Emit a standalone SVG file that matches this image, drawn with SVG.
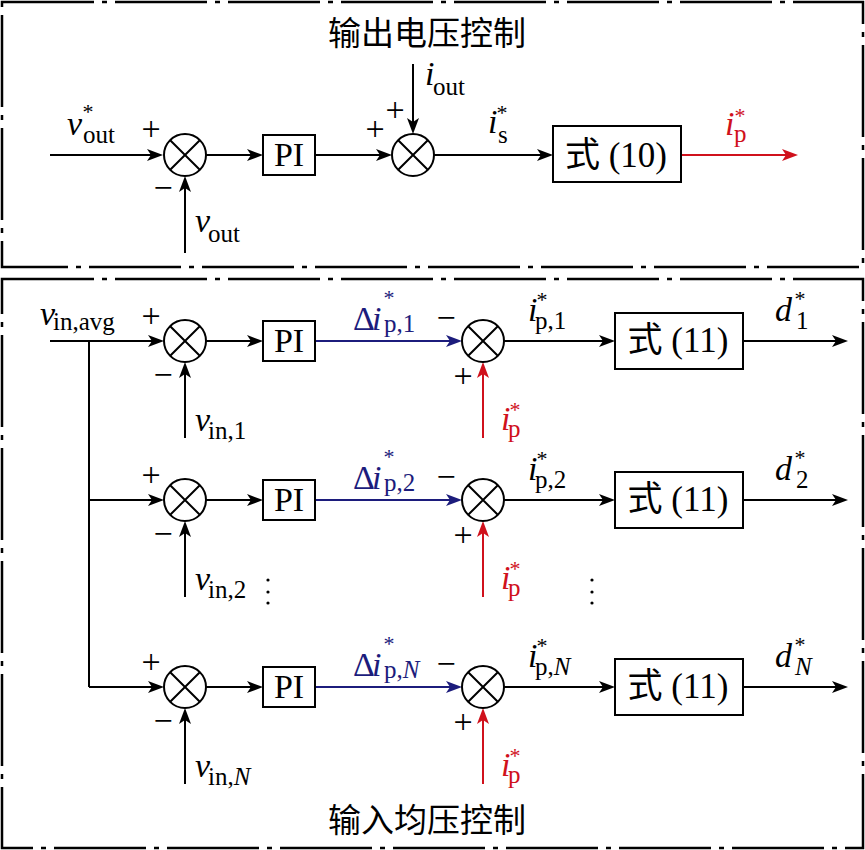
<svg xmlns="http://www.w3.org/2000/svg" width="865" height="850" viewBox="0 0 865 850">
<style>
.frame{fill:none;stroke:#000;stroke-width:2.5;stroke-dasharray:92 8 5 8}
.ln{fill:none;stroke:#000;stroke-width:2}
.lb{fill:none;stroke:#1c1c7c;stroke-width:2}
.lr{fill:none;stroke:#d0111c;stroke-width:2}
.blk{fill:#fff;stroke:#000;stroke-width:2}
.sum{fill:#fff;stroke:#000;stroke-width:2}
.t{font-family:"Liberation Serif","Times New Roman",serif;fill:#000}
.it{font-style:italic;font-size:34px}
.rm{font-size:34px}
.sub{font-size:25px}
.sup{font-size:22px}
.pm{font-size:34px}
.cn{font-family:"Noto Sans CJK SC",sans-serif;font-size:33px;fill:#000}
.box{font-family:"Liberation Serif","Noto Sans CJK SC",serif;font-size:35px}
.blue{fill:#1c1c7c}
.red{fill:#d0111c}
</style>
<defs>
<marker id="ak" markerUnits="userSpaceOnUse" markerWidth="16" markerHeight="12" viewBox="0 0 16 12" refX="10" refY="6" orient="auto"><path d="M0,0 L16,6 L0,12 L4,6 z" fill="#000"/></marker>
<marker id="abl" markerUnits="userSpaceOnUse" markerWidth="16" markerHeight="12" viewBox="0 0 16 12" refX="10" refY="6" orient="auto"><path d="M0,0 L16,6 L0,12 L4,6 z" fill="#1c1c7c"/></marker>
<marker id="ar" markerUnits="userSpaceOnUse" markerWidth="16" markerHeight="12" viewBox="0 0 16 12" refX="10" refY="6" orient="auto"><path d="M0,0 L16,6 L0,12 L4,6 z" fill="#d0111c"/></marker>
</defs>
<rect width="865" height="850" fill="#fff"/>
<!-- frames -->
<rect class="frame" x="2" y="2" width="861" height="265"/>
<rect class="frame" x="2" y="279" width="861" height="569"/>
<text class="cn" x="427" y="45" text-anchor="middle">输出电压控制</text>
<text class="cn" x="427" y="832" text-anchor="middle">输入均压控制</text>

<!-- connectors -->
<g id="connectors">
<path class="ln" d="M50,155 H157" marker-end="url(#ak)"/>
<path class="ln" d="M206,155 H257" marker-end="url(#ak)"/>
<path class="ln" d="M315,155 H386" marker-end="url(#ak)"/>
<path class="ln" d="M434,155 H547" marker-end="url(#ak)"/>
<path class="lr" d="M681,155 H792" marker-end="url(#ar)"/>
<path class="ln" d="M185,253 V182" marker-end="url(#ak)"/>
<path class="ln" d="M413,64 V128" marker-end="url(#ak)"/>

<path class="ln" d="M89,341 V687"/>
<path class="ln" d="M50,341 H158" marker-end="url(#ak)"/>
<path class="ln" d="M89,500 H158" marker-end="url(#ak)"/>
<path class="ln" d="M89,687 H158" marker-end="url(#ak)"/>

<path class="ln" d="M206,341 H257" marker-end="url(#ak)"/>
<path class="ln" d="M206,500 H257" marker-end="url(#ak)"/>
<path class="ln" d="M206,687 H257" marker-end="url(#ak)"/>

<path class="lb" d="M315,341 H456" marker-end="url(#abl)"/>
<path class="lb" d="M315,500 H456" marker-end="url(#abl)"/>
<path class="lb" d="M315,687 H456" marker-end="url(#abl)"/>

<path class="ln" d="M504,341 H609" marker-end="url(#ak)"/>
<path class="ln" d="M504,500 H609" marker-end="url(#ak)"/>
<path class="ln" d="M504,687 H609" marker-end="url(#ak)"/>

<path class="ln" d="M743,341 H842" marker-end="url(#ak)"/>
<path class="ln" d="M743,500 H842" marker-end="url(#ak)"/>
<path class="ln" d="M743,687 H842" marker-end="url(#ak)"/>

<path class="ln" d="M185,438 V368" marker-end="url(#ak)"/>
<path class="ln" d="M185,597 V527" marker-end="url(#ak)"/>
<path class="ln" d="M185,784 V714" marker-end="url(#ak)"/>

<path class="lr" d="M483,438 V368" marker-end="url(#ar)"/>
<path class="lr" d="M483,597 V527" marker-end="url(#ar)"/>
<path class="lr" d="M483,784 V714" marker-end="url(#ar)"/>
</g>

<!-- top section nodes -->
<g id="sum-top-1">
<circle class="sum" cx="185" cy="155" r="21"/>
<path class="ln" d="M170.2,140.2 L199.8,169.8 M199.8,140.2 L170.2,169.8"/>
</g>
<g id="pi-top">
<rect class="blk" x="263" y="135" width="52" height="40"/>
<text class="t rm" x="289" y="166" text-anchor="middle">PI</text>
</g>
<g id="sum-top-2">
<circle class="sum" cx="413" cy="155" r="21"/>
<path class="ln" d="M398.2,140.2 L427.8,169.8 M427.8,140.2 L398.2,169.8"/>
</g>
<g id="eq10">
<rect class="blk" x="553" y="126" width="128" height="56"/>
<text class="t box" x="616" y="167" text-anchor="middle">式 (10)</text>
</g>

<!-- top labels -->
<g id="labels-top">
<text class="t it" x="67" y="135">v</text><text class="t sub" x="83" y="143">out</text><text class="t sup" x="88" y="119" text-anchor="middle">*</text>
<text class="t it" x="195" y="232">v</text><text class="t sub" x="208" y="242">out</text>
<text class="t it" x="425" y="85">i</text><text class="t sub" x="433" y="95">out</text>
<text class="t it" x="488" y="133">i</text><text class="t sub" x="498" y="143">s</text><text class="t sup" x="502" y="120" text-anchor="middle">*</text>
<text class="t it red" x="725" y="135">i</text><text class="t sub red" x="734" y="142">p</text><text class="t sup red" x="740" y="123" text-anchor="middle">*</text>
<text class="t pm" x="151" y="140" text-anchor="middle">+</text>
<text class="t pm" x="163" y="199" text-anchor="middle">−</text>
<text class="t pm" x="395" y="121" text-anchor="middle">+</text>
<text class="t pm" x="375" y="140" text-anchor="middle">+</text>
</g>

<!-- row 1 -->
<g id="sum-1a"><circle class="sum" cx="185" cy="341" r="21"/><path class="ln" d="M170.2,326.2 L199.8,355.8 M199.8,326.2 L170.2,355.8"/></g>
<g id="pi-1"><rect class="blk" x="263" y="321" width="52" height="40"/><text class="t rm" x="289" y="352" text-anchor="middle">PI</text></g>
<g id="sum-1b"><circle class="sum" cx="483" cy="341" r="21"/><path class="ln" d="M468.2,326.2 L497.8,355.8 M497.8,326.2 L468.2,355.8"/></g>
<g id="eq11-1"><rect class="blk" x="615" y="313" width="128" height="56"/><text class="t box" x="678" y="352" text-anchor="middle">式 (11)</text></g>
<g id="labels-1">
<text class="t it" x="40" y="325">v</text><text class="t sub" x="53" y="330">in,avg</text>
<text class="t pm" x="151" y="327" text-anchor="middle">+</text>
<text class="t pm" x="163" y="386" text-anchor="middle">−</text>
<text class="t it" x="195" y="431">v</text><text class="t sub" x="208" y="439">in,1</text>
<text class="t rm blue" x="353" y="330">Δ</text><text class="t it blue" x="372" y="330">i</text><text class="t sub blue" x="384" y="332">p,1</text><text class="t sup blue" x="389" y="305" text-anchor="middle">*</text>
<text class="t pm" x="446" y="329" text-anchor="middle">−</text>
<text class="t pm" x="463" y="387" text-anchor="middle">+</text>
<text class="t it red" x="501" y="430">i</text><text class="t sub red" x="508" y="437">p</text><text class="t sup red" x="515" y="417" text-anchor="middle">*</text>
<text class="t it" x="528" y="321">i</text><text class="t sub" x="535" y="329">p,1</text><text class="t sup" x="542" y="307" text-anchor="middle">*</text>
<text class="t it" x="775" y="321">d</text><text class="t sub" x="796" y="329">1</text><text class="t sup" x="800" y="306" text-anchor="middle">*</text>
</g>

<!-- row 2 -->
<g id="sum-2a"><circle class="sum" cx="185" cy="500" r="21"/><path class="ln" d="M170.2,485.2 L199.8,514.8 M199.8,485.2 L170.2,514.8"/></g>
<g id="pi-2"><rect class="blk" x="263" y="480" width="52" height="40"/><text class="t rm" x="289" y="511" text-anchor="middle">PI</text></g>
<g id="sum-2b"><circle class="sum" cx="483" cy="500" r="21"/><path class="ln" d="M468.2,485.2 L497.8,514.8 M497.8,485.2 L468.2,514.8"/></g>
<g id="eq11-2"><rect class="blk" x="615" y="472" width="128" height="56"/><text class="t box" x="678" y="511" text-anchor="middle">式 (11)</text></g>
<g id="labels-2">
<text class="t pm" x="151" y="486" text-anchor="middle">+</text>
<text class="t pm" x="163" y="545" text-anchor="middle">−</text>
<text class="t it" x="195" y="590">v</text><text class="t sub" x="208" y="598">in,2</text>
<text class="t rm blue" x="353" y="489">Δ</text><text class="t it blue" x="372" y="489">i</text><text class="t sub blue" x="384" y="491">p,2</text><text class="t sup blue" x="389" y="464" text-anchor="middle">*</text>
<text class="t pm" x="446" y="488" text-anchor="middle">−</text>
<text class="t pm" x="463" y="546" text-anchor="middle">+</text>
<text class="t it red" x="501" y="589">i</text><text class="t sub red" x="508" y="596">p</text><text class="t sup red" x="515" y="576" text-anchor="middle">*</text>
<text class="t it" x="528" y="480">i</text><text class="t sub" x="535" y="488">p,2</text><text class="t sup" x="542" y="466" text-anchor="middle">*</text>
<text class="t it" x="775" y="480">d</text><text class="t sub" x="796" y="488">2</text><text class="t sup" x="800" y="465" text-anchor="middle">*</text>
</g>
<g id="dots">
<circle cx="268" cy="580" r="1.6"/><circle cx="268" cy="592" r="1.6"/><circle cx="268" cy="603" r="1.6"/>
<circle cx="592" cy="580" r="1.6"/><circle cx="592" cy="592" r="1.6"/><circle cx="592" cy="603" r="1.6"/>
</g>

<!-- row N -->
<g id="sum-Na"><circle class="sum" cx="185" cy="687" r="21"/><path class="ln" d="M170.2,672.2 L199.8,701.8 M199.8,672.2 L170.2,701.8"/></g>
<g id="pi-N"><rect class="blk" x="263" y="667" width="52" height="40"/><text class="t rm" x="289" y="698" text-anchor="middle">PI</text></g>
<g id="sum-Nb"><circle class="sum" cx="483" cy="687" r="21"/><path class="ln" d="M468.2,672.2 L497.8,701.8 M497.8,672.2 L468.2,701.8"/></g>
<g id="eq11-N"><rect class="blk" x="615" y="659" width="128" height="56"/><text class="t box" x="678" y="698" text-anchor="middle">式 (11)</text></g>
<g id="labels-N">
<text class="t pm" x="151" y="673" text-anchor="middle">+</text>
<text class="t pm" x="163" y="732" text-anchor="middle">−</text>
<text class="t it" x="195" y="777">v</text><text class="t sub" x="208" y="785">in,<tspan font-style="italic">N</tspan></text>
<text class="t rm blue" x="353" y="676">Δ</text><text class="t it blue" x="372" y="676">i</text><text class="t sub blue" x="384" y="678">p,<tspan font-style="italic">N</tspan></text><text class="t sup blue" x="389" y="651" text-anchor="middle">*</text>
<text class="t pm" x="446" y="675" text-anchor="middle">−</text>
<text class="t pm" x="463" y="733" text-anchor="middle">+</text>
<text class="t it red" x="501" y="776">i</text><text class="t sub red" x="508" y="783">p</text><text class="t sup red" x="515" y="763" text-anchor="middle">*</text>
<text class="t it" x="528" y="667">i</text><text class="t sub" x="535" y="675">p,<tspan font-style="italic">N</tspan></text><text class="t sup" x="542" y="653" text-anchor="middle">*</text>
<text class="t it" x="775" y="667">d</text><text class="t sub" x="795" y="675" font-style="italic">N</text><text class="t sup" x="800" y="652" text-anchor="middle">*</text>
</g>
</svg>
